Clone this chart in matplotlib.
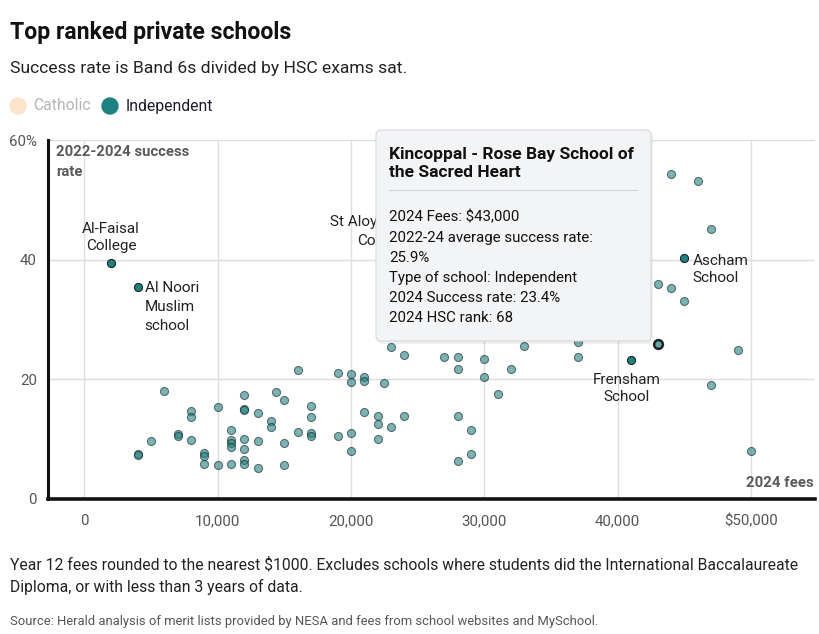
"""Top ranked private schools: fees vs success rate scatter."""

import matplotlib
matplotlib.use("Agg")
import matplotlib.pyplot as plt
from matplotlib.patches import FancyBboxPatch, Circle

plt.rcParams["font.family"] = ["Roboto", "DejaVu Sans"]

# independent schools (unlabelled), year 12 fees ($) and 2022-24 success rate (%)
fees = [6000, 12000, 10000, 8000, 8000, 12000, 12000, 13000, 7000, 7000,
        5000, 8000, 11000, 11000, 11000, 11000, 12000, 13000, 12000, 4000,
        4000, 9000, 9000, 9000, 10000, 11000, 12000, 12000, 13000, 23000,
        24000, 27000, 28000, 28000, 30000, 30000, 31000, 16000, 19000, 20000,
        20000, 21000, 21000, 22500, 14400, 15000, 14000, 14000, 17000, 17000,
        16000, 17000, 17000, 19000, 20000, 20000, 21000, 22000, 22000, 23000,
        24000, 22000, 15000, 15000, 28000, 29000, 29000, 28000, 32000, 33000,
        37000, 37000, 49000, 47000, 50000, 44000, 46000, 47000, 43000, 44000,
        45000]
rates = [18.0, 17.3, 15.4, 14.7, 13.7, 15.1, 14.9, 14.4, 10.8, 10.5,
         9.7, 9.9, 11.5, 9.9, 9.3, 8.7, 10.1, 9.7, 8.4, 7.5,
         7.4, 7.7, 7.2, 5.8, 5.6, 5.9, 6.6, 5.8, 5.1, 25.4,
         24.1, 23.8, 23.8, 21.7, 23.4, 20.4, 17.6, 21.6, 21.0, 20.9,
         19.5, 20.4, 19.7, 19.4, 17.9, 16.5, 13.1, 12.1, 15.6, 13.7,
         11.2, 11.0, 10.6, 10.5, 11.0, 8.1, 14.6, 13.8, 12.5, 12.1,
         13.8, 10.1, 9.4, 5.6, 13.8, 11.5, 7.6, 6.3, 21.8, 25.6,
         26.2, 23.8, 24.9, 19.1, 8.1, 54.3, 53.2, 45.1, 36.0, 35.3,
         33.1]

# labelled schools
named_schools = ["Al-Faisal\nCollege", "Al Noori\nMuslim\nschool",
                 "St Aloysius'\nCollege", "Frensham\nSchool", "Ascham\nSchool"]
named_fees = [2000, 4000, 25000, 41000, 45000]
named_rates = [39.5, 35.5, 44.5, 23.2, 40.3]

# hovered school (tooltip)
hover_name = "Kincoppal - Rose Bay School of\nthe Sacred Heart"
hover_fees = 43000
hover_rate = 25.9
hover_type = "Independent"
hover_rate_2024 = 23.4
hover_rank = 68

x_ticks = [0, 10000, 20000, 30000, 40000, 50000]
x_tick_labels = ["0", "10,000", "20,000", "30,000", "40,000", "\\$50,000"]
y_ticks = [0, 20, 40, 60]
y_tick_labels = ["0", "20", "40", "60%"]

TEAL = "#1e8283"
W, H = 820, 634

fig = plt.figure(figsize=(W / 100, H / 100), dpi=100)
ax = fig.add_axes([48 / W, 1 - 499 / H, (815 - 48) / W, (499 - 140) / H])

ax.set_xlim(-2720, 54800)
ax.set_ylim(0, 60)
for s in ["top", "right"]:
    ax.spines[s].set_visible(False)
ax.spines["left"].set_linewidth(2.2)
ax.spines["bottom"].set_linewidth(2.6)
ax.spines["left"].set_color("#111")
ax.spines["bottom"].set_color("#111")
ax.set_xticks(x_ticks)
ax.set_xticklabels(x_tick_labels)
ax.set_yticks(y_ticks)
ax.set_yticklabels(y_tick_labels)
ax.tick_params(length=0, labelsize=10.8, labelcolor="#555")
ax.tick_params(axis="x", pad=11)
ax.tick_params(axis="y", pad=8)
ax.grid(True, color="#dddddd", linewidth=1)
ax.set_axisbelow(True)

ax.scatter(fees, rates, s=34, color=TEAL, alpha=0.6, edgecolors="#1a2424",
           linewidths=0.8, zorder=3)
ax.scatter(named_fees, named_rates, s=34, color=TEAL, edgecolors="#1a2424",
           linewidths=0.8, zorder=4)
ax.scatter([hover_fees], [hover_rate], s=40, color="#5fa9a9",
           edgecolors="#222", linewidths=1.8, zorder=5)

# school labels
label_opts = [
    dict(xytext=(0, 7), ha="center", va="bottom", linespacing=1.3),
    dict(xytext=(5, 4), ha="left", va="top", linespacing=1.45),
    dict(xytext=(-7, 1), ha="right", va="center", linespacing=1.4),
    dict(xytext=(-3, -9), ha="center", va="top", linespacing=1.3),
    dict(xytext=(6, 3), ha="left", va="top", linespacing=1.3),
]
for name, fx, ry, opt in zip(named_schools, named_fees, named_rates, label_opts):
    ax.annotate(name, (fx, ry), textcoords="offset points", fontsize=11,
                color="#222", zorder=6, **opt)

ax.text(0.011, 0.985, "2022-2024 success\nrate", transform=ax.transAxes,
        fontsize=10.7, fontweight="bold", color="#5a5a5a", va="top",
        linespacing=1.55)
ax.text(0.998, 0.025, "2024 fees", transform=ax.transAxes, fontsize=10.7,
        fontweight="bold", color="#5a5a5a", ha="right", va="bottom")

# overlay in pixel coordinates for header, legend, tooltip, notes
ov = fig.add_axes([0, 0, 1, 1], zorder=10)
ov.set_xlim(0, W)
ov.set_ylim(H, 0)
ov.axis("off")

ov.text(10, 33, "Top ranked private schools", fontsize=16.6, fontweight="bold",
        color="#111", va="center")
ov.text(10, 69, "Success rate is Band 6s divided by HSC exams sat.",
        fontsize=12.6, color="#222", va="center")

ov.add_patch(Circle((18, 106), 8, color="#fde4ca"))
ov.text(33, 106, "Catholic", fontsize=11.3, color="#b5b5b5", va="center")
ov.add_patch(Circle((110, 106), 8, color=TEAL))
ov.text(126, 106, "Independent", fontsize=11.3, color="#1a1a2e", va="center")

# tooltip
shadow = FancyBboxPatch((378, 133), 275, 211, boxstyle="round,pad=0,rounding_size=5",
                        facecolor="#000", alpha=0.06, edgecolor="none")
ov.add_patch(shadow)
box = FancyBboxPatch((376, 130), 275, 211, boxstyle="round,pad=0,rounding_size=5",
                     facecolor="#f3f4f6", edgecolor="#d6d8dc", linewidth=0.8)
ov.add_patch(box)
ov.text(389, 163.5, hover_name, fontsize=12.5, fontweight="bold", color="#111",
        va="center", linespacing=1.3)
ov.plot([389, 637], [190, 190], color="#cfd2d6", linewidth=0.8)
tip_lines = [
    f"2024 Fees: \\${hover_fees:,}",
    "2022-24 average success rate:",
    f"{hover_rate}%",
    f"Type of school: {hover_type}",
    f"2024 Success rate: {hover_rate_2024}%",
    f"2024 HSC rank: {hover_rank}",
]
for i, line in enumerate(tip_lines):
    ov.text(389, 217.5 + i * 20.2, line, fontsize=10.8, color="#111", va="center")

ov.text(10, 565, "Year 12 fees rounded to the nearest \\$1000. Excludes schools where "
        "students did the International Baccalaureate", fontsize=11.3,
        color="#222", va="center")
ov.text(10, 587, "Diploma, or with less than 3 years of data.", fontsize=11.3,
        color="#222", va="center")
ov.text(10, 621, "Source: Herald analysis of merit lists provided by NESA and fees "
        "from school websites and MySchool.", fontsize=9.4, color="#555",
        va="center")

plt.savefig("out.png", dpi=100)
plt.close(fig)
